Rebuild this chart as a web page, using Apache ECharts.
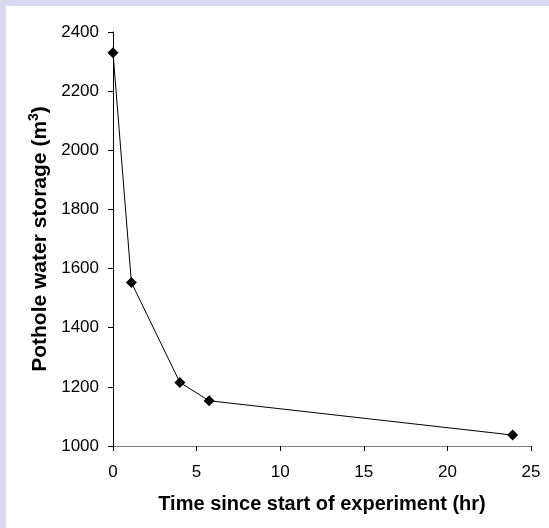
<!DOCTYPE html>
<html><head><meta charset="utf-8">
<script src="https://cdn.jsdelivr.net/npm/echarts@6/dist/echarts.min.js"></script>
<style>html,body{margin:0;padding:0;background:#fff;}#c{width:549px;height:528px;}</style>
</head><body><div id="c"></div>
<script>
const timeHr = [0, 1.1, 4.0, 5.75, 23.9];
const storage = [2330, 1553, 1215, 1153, 1037];
const xTicks = [0, 25, 5];      // min, max, interval
const yTicks = [1000, 2400, 200];

const chart = echarts.init(document.getElementById('c'), null, {renderer: 'canvas'});
const font = 'Liberation Sans, Arial, sans-serif';
chart.setOption({
  animation: false,
  backgroundColor: '#ffffff',
  graphic: [
    {type: 'rect', left: 0, top: 0, shape: {width: 549, height: 6}, style: {fill: '#d9d9ef'}, z: -10},
    {type: 'rect', left: 0, top: 0, shape: {width: 6, height: 528}, style: {fill: '#d9d9ef'}, z: -10}
  ],
  grid: {left: 113, top: 32, right: 18, bottom: 82, containLabel: false},
  xAxis: {
    type: 'value', min: xTicks[0], max: xTicks[1], interval: xTicks[2],
    name: 'Time since start of experiment (hr)', nameLocation: 'middle', nameGap: 48,
    nameTextStyle: {fontFamily: font, fontSize: 20, fontWeight: 'bold', color: '#000'},
    axisLine: {lineStyle: {color: '#808080', width: 1}},
    axisTick: {show: true, inside: false, length: 5, lineStyle: {color: '#000'}},
    axisLabel: {fontFamily: font, fontSize: 17, color: '#000', margin: 18, formatter: v => String(v)},
    splitLine: {show: false}
  },
  yAxis: {
    type: 'value', min: yTicks[0], max: yTicks[1], interval: yTicks[2],
    name: 'Pothole water storage (m{sup|3})', nameLocation: 'middle', nameGap: 60,
    nameTextStyle: {fontFamily: font, fontSize: 21, fontWeight: 'bold', color: '#000',
      rich: {sup: {fontFamily: font, fontSize: 14, fontWeight: 'bold', color: '#000', verticalAlign: 'top', padding: [0, 0, 12, 0]}}},
    axisLine: {show: true, lineStyle: {color: '#000', width: 1}},
    axisTick: {show: true, inside: false, length: 5, lineStyle: {color: '#000'}},
    axisLabel: {fontFamily: font, fontSize: 17, color: '#000', margin: 14, formatter: v => String(v)},
    splitLine: {show: false}
  },
  series: [{
    type: 'line',
    data: timeHr.map((t, i) => [t, storage[i]]),
    symbol: 'diamond', symbolSize: 11,
    itemStyle: {color: '#000'},
    lineStyle: {color: '#000', width: 1}
  }]
});
</script></body></html>
